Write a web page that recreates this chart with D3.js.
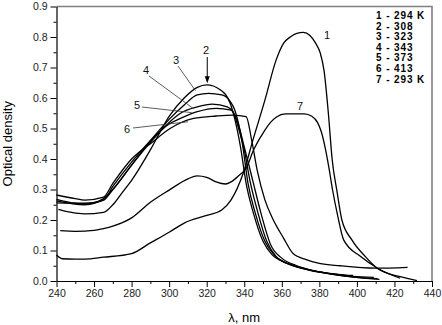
<!DOCTYPE html>
<html>
<head>
<meta charset="utf-8">
<script src="https://cdn.jsdelivr.net/npm/d3@7"></script>
<style>
  body { margin: 0; background: #fff; }
  svg text { font-family: Arial, "Liberation Sans", sans-serif; }
</style>
</head>
<body>
<div id="chart"></div>
<script>
// spectra: wavelength (nm) and optical density
var c1_nm = [240, 243, 250, 255, 265, 280, 290, 300, 308, 320, 328, 333, 339.5, 345, 351, 357, 361, 364.5, 368, 371.5, 375, 378, 380.5, 382.5, 384.8, 386.8, 389.5, 392, 397.4, 404.5, 410.8, 423, 432];
var c1_od = [0.085, 0.073, 0.072, 0.072, 0.078, 0.09, 0.125, 0.16, 0.19, 0.215, 0.233, 0.266, 0.354, 0.47, 0.593, 0.725, 0.78, 0.80, 0.812, 0.815, 0.805, 0.78, 0.747, 0.69, 0.55, 0.40, 0.29, 0.2, 0.134, 0.08, 0.042, 0.014, 0.001];

var c2_nm = [241, 245, 255, 265, 270, 275, 280, 290, 300, 308, 315, 320, 327, 332.5, 335, 338, 341, 345, 350, 355, 360, 370, 380, 390, 398];
var c2_od = [0.235, 0.228, 0.22, 0.225, 0.25, 0.29, 0.33, 0.43, 0.54, 0.60, 0.635, 0.643, 0.628, 0.583, 0.53, 0.44, 0.32, 0.22, 0.13, 0.085, 0.065, 0.045, 0.03, 0.022, 0.018];

var c3_nm = [240, 250, 255, 265, 270, 280, 290, 300, 308, 315, 321, 328, 332.5, 335, 339, 342, 346, 351, 356, 362, 372, 385, 398, 409];
var c3_od = [0.268, 0.255, 0.252, 0.265, 0.30, 0.38, 0.46, 0.53, 0.577, 0.61, 0.615, 0.61, 0.589, 0.56, 0.45, 0.32, 0.22, 0.13, 0.085, 0.06, 0.04, 0.025, 0.015, 0.012];

var c4_nm = [240, 255, 265, 270, 280, 290, 300, 306, 315, 323, 331, 334, 337, 340, 343, 347, 352, 357, 364, 375, 390, 400, 411];
var c4_od = [0.263, 0.25, 0.27, 0.30, 0.38, 0.455, 0.52, 0.55, 0.571, 0.58, 0.571, 0.555, 0.50, 0.43, 0.33, 0.23, 0.13, 0.08, 0.055, 0.035, 0.02, 0.012, 0.008];

var c5_nm = [240, 255, 265, 270, 280, 290, 300, 306, 315, 325, 333, 336, 340, 344.5, 349, 354, 360, 368, 380, 395, 412];
var c5_od = [0.256, 0.255, 0.265, 0.31, 0.39, 0.46, 0.515, 0.533, 0.555, 0.566, 0.56, 0.53, 0.44, 0.33, 0.22, 0.12, 0.075, 0.05, 0.03, 0.015, 0.005];

var c6_nm = [240, 250, 255, 265, 270, 280, 290, 300.5, 313, 325, 334, 341, 344, 347, 351, 355.5, 361, 366, 373, 380, 391, 410, 427];
var c6_od = [0.282, 0.27, 0.265, 0.275, 0.32, 0.40, 0.45, 0.50, 0.533, 0.541, 0.544, 0.539, 0.46, 0.36, 0.266, 0.2, 0.14, 0.09, 0.07, 0.058, 0.05, 0.042, 0.045];

var c7_nm = [242, 250, 260, 265, 270, 280, 290, 300, 310, 315, 320, 325, 330, 333, 337, 341, 345, 351, 354, 357, 362, 372, 376, 379, 381, 383, 385, 387, 389.5, 393, 402, 411, 423];
var c7_od = [0.165, 0.163, 0.166, 0.172, 0.18, 0.207, 0.258, 0.298, 0.335, 0.345, 0.34, 0.325, 0.318, 0.325, 0.345, 0.37, 0.43, 0.495, 0.52, 0.537, 0.548, 0.548, 0.54, 0.52, 0.49, 0.44, 0.375, 0.30, 0.222, 0.134, 0.08, 0.042, 0.009];

var legendLabels = ["1 - 294 K", "2 - 308", "3 - 323", "4 - 343", "5 - 373", "6 - 413", "7 - 293 K"];
var xTicks = [240, 260, 280, 300, 320, 340, 360, 380, 400, 420, 440];
var yTicks = [0.0, 0.1, 0.2, 0.3, 0.4, 0.5, 0.6, 0.7, 0.8, 0.9];

var width = 442, height = 325;
var margin = {top: 6.5, right: 10, bottom: 44, left: 56.5};

var svg = d3.select("#chart")
  .append("svg")
    .attr("width", width)
    .attr("height", height);

var x = d3.scaleLinear()
  .domain([240, 440])
  .range([margin.left, width - margin.right]);

var y = d3.scaleLinear()
  .domain([0, 0.9])
  .range([height - margin.bottom, margin.top]);

// grey frame on top and right
svg.append("path")
  .attr("d", "M" + x(240) + "," + y(0.9) + "H" + x(440) + "V" + y(0))
  .attr("fill", "none")
  .attr("stroke", "#808080")
  .attr("stroke-width", 1.6);

// minor ticks
svg.append("g")
  .attr("transform", "translate(0," + y(0) + ")")
  .call(d3.axisBottom(x).tickValues(d3.range(250, 440, 20)).tickSize(3).tickFormat(""))
  .call(function(g) { g.select(".domain").remove(); });
svg.append("g")
  .attr("transform", "translate(" + x(240) + ",0)")
  .call(d3.axisLeft(y).tickValues(d3.range(0.05, 0.9, 0.1)).tickSize(3).tickFormat(""))
  .call(function(g) { g.select(".domain").remove(); });

// major axes
var xAxis = svg.append("g")
  .attr("transform", "translate(0," + y(0) + ")")
  .call(d3.axisBottom(x).tickValues(xTicks).tickSize(6).tickSizeOuter(0).tickPadding(3).tickFormat(d3.format("d")));

var yAxis = svg.append("g")
  .attr("transform", "translate(" + x(240) + ",0)")
  .call(d3.axisLeft(y).tickValues(yTicks).tickSize(6).tickSizeOuter(0).tickPadding(3).tickFormat(d3.format(".1f")));

svg.selectAll(".tick text")
  .style("font-size", "10.5px")
  .attr("fill", "#222");
svg.selectAll(".tick line").attr("stroke", "#000");
svg.selectAll(".domain").attr("stroke", "#000").attr("stroke-width", 1.2);

// axis titles
svg.append("text")
  .attr("x", (x(240) + x(440)) / 2)
  .attr("y", 322)
  .attr("text-anchor", "middle")
  .style("font-size", "13px")
  .text("λ, nm");

svg.append("text")
  .attr("transform", "translate(12," + ((y(0) + y(0.9)) / 2) + ") rotate(-90)")
  .attr("text-anchor", "middle")
  .style("font-size", "13px")
  .text("Optical density");

// curves
var line = d3.line()
  .curve(d3.curveMonotoneX)
  .x(function(d) { return x(d[0]); })
  .y(function(d) { return y(d[1]); });

var curves = [
  [c1_nm, c1_od], [c2_nm, c2_od], [c3_nm, c3_od], [c4_nm, c4_od],
  [c5_nm, c5_od], [c6_nm, c6_od], [c7_nm, c7_od]
];

svg.selectAll(".curve")
  .data(curves)
  .enter()
  .append("path")
    .attr("class", "curve")
    .attr("d", function(c) { return line(d3.zip(c[0], c[1])); })
    .attr("fill", "none")
    .attr("stroke", "#000")
    .attr("stroke-width", 1.3)
    .attr("stroke-linejoin", "round");

// curve labels with leader lines
var lab = svg.append("g").style("font-size", "11px").attr("fill", "#111");
lab.append("text").attr("x", 327).attr("y", 39).attr("text-anchor", "middle").text("1");
lab.append("text").attr("x", 300).attr("y", 110).attr("text-anchor", "middle").text("7");
lab.append("text").attr("x", 206).attr("y", 54).attr("text-anchor", "middle").text("2");
lab.append("text").attr("x", 176).attr("y", 64).attr("text-anchor", "middle").text("3");
lab.append("text").attr("x", 146).attr("y", 74).attr("text-anchor", "middle").text("4");
lab.append("text").attr("x", 137).attr("y", 109).attr("text-anchor", "middle").text("5");
lab.append("text").attr("x", 127).attr("y", 133).attr("text-anchor", "middle").text("6");

var leaders = [
  [178, 66, x(314), y(0.624)],
  [149, 76, x(313), y(0.565)],
  [142, 107, x(312), y(0.552)],
  [133, 128, x(310), y(0.522)]
];
svg.selectAll(".leader")
  .data(leaders)
  .enter()
  .append("line")
    .attr("class", "leader")
    .attr("x1", function(d) { return d[0]; })
    .attr("y1", function(d) { return d[1]; })
    .attr("x2", function(d) { return d[2]; })
    .attr("y2", function(d) { return d[3]; })
    .attr("stroke", "#333")
    .attr("stroke-width", 0.8);

// arrow for curve 2
svg.append("line")
  .attr("x1", x(320.3)).attr("y1", 57)
  .attr("x2", x(320.3)).attr("y2", y(0.655))
  .attr("stroke", "#000").attr("stroke-width", 1);
svg.append("path")
  .attr("d", "M" + (x(320.3) - 2.5) + "," + (y(0.655) - 5) + "L" + (x(320.3) + 2.5) + "," + (y(0.655) - 5) + "L" + x(320.3) + "," + y(0.648) + "Z")
  .attr("fill", "#000");

// legend
svg.append("g")
  .selectAll("text")
  .data(legendLabels)
  .enter()
  .append("text")
    .attr("x", 376)
    .attr("y", function(d, i) { return 19 + i * 10.6; })
    .style("font-size", "10px")
    .style("font-weight", "bold")
    .style("letter-spacing", "0.9px")
    .text(function(d) { return d; });
</script>
</body>
</html>
